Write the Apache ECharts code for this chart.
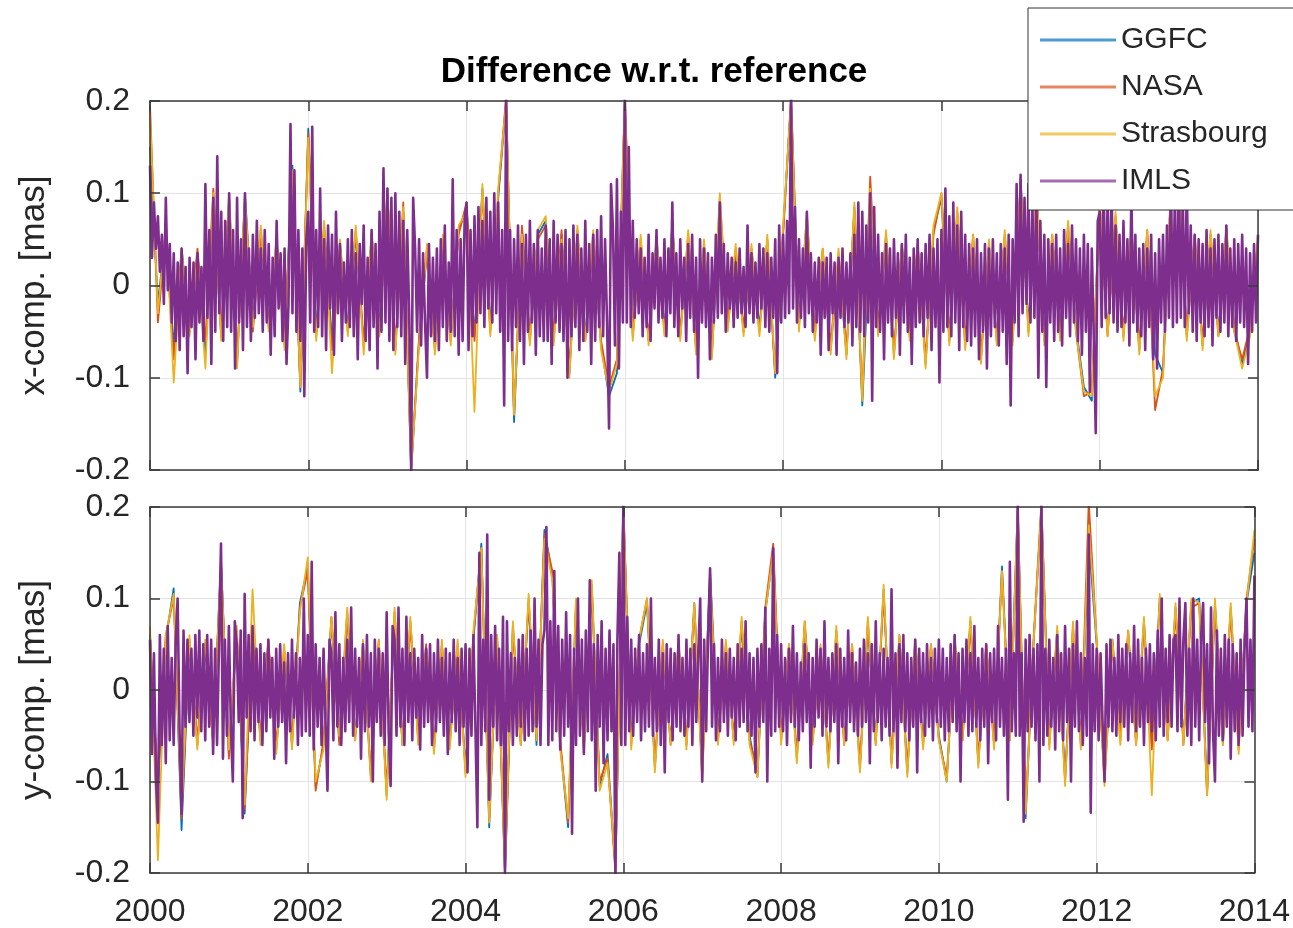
<!DOCTYPE html>
<html>
<head>
<meta charset="utf-8">
<script src="https://cdn.jsdelivr.net/npm/echarts@6/dist/echarts.min.js"></script>
<style>html,body{margin:0;padding:0;background:#fff}#c{width:1293px;height:928px}</style>
</head>
<body>
<div id="c"></div>
<script>
// Values in units of 0.001 mas.
const T0 = 2000;
const DT_IMLS = 0.025;   // sampling step (years) of the IMLS rows
const DT_OTHER = 0.1;    // sampling step (years) of the other rows
const seriesNames = ['GGFC', 'NASA', 'Strasbourg', 'IMLS'];
const xTickYears = [2000, 2002, 2004, 2006, 2008, 2010, 2012, 2014];
const yTickValues = [-0.2, -0.1, 0, 0.1, 0.2];

const xIMLS = [
130,30,90,40,75,15,55,-20,95,-5,45,-40,35,-60,25,-70,40,-55,20,-95,30,-45,25,-80,35,-40,20,-60,110,-35,60,-85,95,-50,140,-30,80,-60,70,-45,
100,-50,60,-90,95,-40,50,-70,100,-45,40,-60,55,-35,70,-30,40,-50,60,-40,45,-75,30,-55,70,-25,35,-60,40,-85,-20,175,-30,125,-50,60,-60,40,-120,50,
80,-40,172,-50,60,-45,105,-55,50,-70,65,-25,55,-75,80,-30,45,-60,25,-40,50,-45,60,-55,35,-80,45,-20,65,-60,30,-70,60,-45,45,-90,80,-50,127,-40,
105,-60,95,-70,100,-45,80,-55,70,-85,60,-30,-200,95,40,-50,50,-65,35,-40,-100,45,-55,30,-60,40,-70,50,-45,65,-60,25,-50,115,-55,60,-75,50,-60,70,
90,-70,60,-55,75,-40,85,-30,70,-45,95,-25,80,-40,100,-30,90,-50,60,-130,205,-60,60,-70,50,-45,65,-60,45,-85,55,-50,70,-40,45,-75,60,-55,40,-60,
65,-60,50,-85,70,-40,55,-50,45,-60,60,-100,50,-55,65,-45,55,-70,40,-60,70,-50,45,-85,55,-60,60,-45,75,-55,50,-40,-155,110,60,-65,115,-90,80,-40,
205,-40,150,-45,70,-35,50,-30,40,-55,30,-45,55,-60,35,-25,60,-40,30,-35,50,-55,40,-30,90,-45,35,-55,50,-25,30,-60,45,-35,55,-50,30,-100,50,-40,
40,-45,35,-80,30,-40,55,-35,90,-30,45,-50,35,-25,30,-45,25,-35,40,-30,20,-45,65,-30,35,-40,25,-35,45,-25,40,-45,35,-50,30,-35,50,-95,65,-40,
55,-35,70,-30,205,-25,85,-40,50,-35,40,-45,80,-30,35,-50,25,-40,30,-75,25,-35,30,-70,35,-30,25,-75,30,-35,40,-45,25,-40,35,-65,55,-45,90,-50,
80,-55,65,-40,100,-125,85,-45,55,-50,35,-80,45,-40,40,-55,50,-35,35,-75,45,-40,55,-50,30,-85,40,-45,50,-40,35,-55,45,-35,55,-70,40,-45,50,-105,
60,-50,105,-45,75,-55,90,-40,65,-70,80,-45,55,-60,45,-65,40,-55,50,-80,35,-50,45,-90,40,-55,50,-45,35,-65,45,-50,40,-85,55,-130,50,-40,110,-55,
120,-30,95,-20,110,-40,85,-35,100,-100,70,-50,55,-110,50,-40,45,-60,55,-50,40,-65,60,-35,45,-55,65,-40,50,-60,40,-75,55,-50,45,-115,40,-55,-160,70,
80,-45,110,-35,95,-30,105,-40,65,-50,55,-45,70,-40,50,-65,100,-40,55,-50,40,-55,45,-70,40,-45,55,-80,35,-90,50,-40,55,-50,65,-35,115,-45,100,-40,
120,-35,95,-45,110,-30,65,-50,55,-60,50,-40,45,-55,60,-45,40,-65,50,-35,55,-50,45,-40,65,-55,40,-45,50,-60,45,-40,55,-45,40,-85,35,-50,45,-40,
55];

const xGGFC = [
150,-20,60,-65,40,-50,35,-75,90,-55,
95,-85,100,-40,60,-45,50,-60,130,-115,
170,-50,65,-60,45,-45,55,-65,55,-45,
100,-70,80,-200,-60,40,-65,50,-60,60,
85,-55,105,-45,95,200,-148,60,-60,55,
70,-60,55,-95,60,-55,50,-65,-120,-95,
200,-55,45,-60,50,-45,65,-55,50,-70,
45,-75,85,-45,35,-50,40,-45,50,-100,
60,200,-40,75,-55,35,-70,30,-75,85,
-130,65,-50,55,-75,45,-55,40,-85,60,
95,-60,80,-65,50,-80,45,-60,55,-60,
115,-45,110,-60,50,-55,65,-45,-110,-125,
90,-50,70,-55,60,-70,55,-75,-95,105,
110,-55,50,-65,55,-50,60,-45,-85,-50,
45];

const xNASA = [
195,-40,55,-80,35,-45,40,-60,105,-50,
90,-80,95,-50,55,-40,45,-55,120,-110,
165,-55,60,-70,40,-50,60,-60,50,-50,
95,-65,90,-200,-55,35,-70,45,-55,55,
90,-60,100,-50,100,205,-140,65,-55,50,
65,-55,60,-90,55,-60,55,-60,-110,-80,
205,-50,50,-55,45,-50,60,-50,55,-65,
40,-70,95,-40,40,-45,35,-50,45,-95,
55,205,-45,70,-50,40,-65,35,-70,80,
-120,118,-45,50,-70,40,-50,45,-80,55,
100,-55,75,-60,55,-75,40,-55,50,-55,
110,-50,105,-55,55,-50,60,-50,-120,-115,
85,-55,75,-50,55,-65,60,-135,-90,100,
105,-50,55,-60,50,-55,55,-50,-80,-45,
50];

const xStras = [
185,-30,65,-105,40,-55,30,-90,100,-60,
100,-90,95,-45,65,-50,55,-70,125,-110,
160,-60,70,-95,50,-55,65,-75,60,-55,
105,-75,85,-200,-65,45,-75,55,-65,65,
80,-137,110,-55,105,200,-140,55,-65,60,
75,-65,50,-100,65,-60,60,-70,-115,-85,
200,-60,55,-65,55,-55,65,-60,60,-75,
50,-80,100,-50,45,-55,45,-55,55,-95,
65,200,-50,80,-60,40,-75,40,-80,90,
-125,105,-55,60,-80,45,-60,45,-90,65,
100,-65,85,-70,55,-85,50,-65,60,-65,
115,-55,110,-65,55,-60,70,-50,-115,-120,
95,-55,80,-60,65,-75,60,-120,-100,110,
115,-60,55,-70,60,-55,65,-50,-90,-55,
55];

const yIMLS = [
55,-70,40,-95,-145,60,-60,45,-80,70,-55,35,-60,50,100,-45,-135,65,-40,55,-35,45,-50,60,-30,65,-45,50,-55,60,-40,55,-70,45,-60,50,160,-75,55,-50,
70,-40,-100,75,50,-35,65,-140,105,-30,60,-45,70,-55,45,-35,50,-60,40,-45,55,-30,35,-75,45,-40,50,-35,30,-80,40,-45,55,-30,40,-60,35,-50,100,-45,
60,-50,140,-65,50,-40,35,-60,45,-35,-110,55,40,-55,85,-40,50,-60,35,-45,55,-35,90,-50,45,-40,35,-75,50,-45,60,-40,40,-100,55,-35,45,-50,40,-60,
85,-45,-105,70,55,-50,90,-40,45,-60,80,-35,40,-55,45,-30,35,-65,60,-40,45,-35,50,-60,40,-45,55,-35,35,-50,45,-70,40,-35,55,-45,35,-60,45,-40,
50,-90,45,-50,60,-40,-150,150,-60,55,-45,170,-120,60,-40,70,-55,45,-60,80,-200,75,-45,40,-60,35,-50,55,-40,60,-55,45,-50,65,-45,100,-40,55,-60,50,
65,178,-60,75,-55,130,-45,70,-65,55,-50,85,-40,60,-157,45,-60,100,-50,55,-70,65,-45,120,-55,50,-110,60,-40,75,-80,45,-55,65,-45,50,-200,55,150,-60,
205,-60,80,-45,55,-50,45,-35,60,-55,40,-45,50,-40,100,-50,35,-45,55,-60,40,-90,50,-35,45,-55,40,-40,60,-45,35,-50,55,-40,45,-60,50,-35,40,100,
-100,55,-45,60,133,-40,50,-55,35,-45,55,-35,40,-50,45,-30,35,-55,50,-40,45,-35,75,-45,40,-50,35,-90,45,-40,50,-35,90,-100,45,-50,155,-45,60,-40,
50,-45,35,-60,45,-35,70,-40,40,-55,30,-45,50,-35,40,-85,35,-40,55,-30,45,-50,75,-40,35,-45,40,-35,50,-80,45,-40,35,-55,65,-35,40,-45,30,-50,
45,-40,55,-35,40,-80,50,-45,75,-35,40,-55,45,-40,35,-50,110,-45,40,-85,50,-35,60,-45,40,-55,35,-40,55,-90,45,-35,40,-50,50,-40,35,-55,45,-35,
55,-40,45,-55,35,-45,50,-35,60,-45,40,-100,45,-35,55,-50,40,-45,70,-40,35,-55,45,-40,50,-80,40,-35,45,-55,70,-40,35,-50,45,-120,140,-45,40,-50,
205,-50,40,-144,55,-45,60,-40,45,-55,50,-100,205,-60,45,-50,55,-40,35,-65,60,-45,40,-55,70,-35,45,-100,50,-40,75,-45,40,-60,35,-50,170,-134,50,-45,
45,-55,40,-35,-100,50,-40,55,-45,35,-50,60,-35,45,-40,50,-55,40,-35,70,-45,55,-40,35,-60,45,-35,50,-45,40,-55,65,-40,100,-50,45,-35,60,-40,55,
60,-45,100,-40,55,95,-50,45,-60,100,-40,55,-55,60,95,-35,50,-80,90,-45,-100,65,-50,45,-55,60,-40,55,-75,50,-45,40,-60,55,-50,45,100,-40,55,-45,
125];

const yGGFC = [
60,-110,55,111,-153,50,-60,45,-55,140,
-70,60,-135,65,-55,50,-65,40,-60,95,
135,-105,-60,75,-55,85,-50,45,-95,50,
-115,80,-60,75,-50,45,-65,50,-55,45,
-85,55,160,-150,60,-200,70,-55,95,-60,
175,125,-60,-150,90,-65,115,-105,-70,-195,
200,-55,50,95,-85,45,-55,50,-60,95,
-95,130,-50,45,-55,70,-50,-95,85,150,
-55,45,-75,70,-50,45,-80,65,-55,45,
-85,70,-55,110,-80,55,-90,50,-55,45,
-50,-100,55,-50,75,-80,45,-60,135,-50,
200,-140,50,200,-55,65,-95,70,-60,165,
50,-95,55,-50,60,-55,75,-60,100,-50,
90,-55,95,100,-110,95,-55,90,-60,95,
150];

const yNASA = [
55,-100,60,100,-140,55,-55,50,-60,145,
-75,65,-130,60,-50,55,-60,45,-55,90,
130,-110,-55,80,-60,80,-55,50,-90,55,
-110,85,-55,70,-55,50,-60,45,-60,50,
-90,60,155,-140,55,-200,65,-60,100,-55,
170,130,-55,-145,95,-60,110,-100,-75,-200,
205,-60,55,100,-80,50,-60,45,-55,90,
-90,125,-55,50,-50,75,-55,-90,90,160,
-50,50,-70,75,-55,40,-75,60,-60,50,
-80,75,-60,105,-75,60,-85,55,-60,50,
-55,-95,50,-55,70,-75,50,-55,130,-55,
200,-130,55,205,-60,60,-100,65,-55,205,
55,-100,50,-55,65,-60,70,-65,95,-55,
85,-60,90,95,-115,90,-60,85,-65,100,
165];

const yStras = [
70,-186,60,105,-130,60,-65,55,-55,135,
-65,70,-125,110,-60,45,-70,50,-65,85,
145,-100,-65,80,-50,90,-55,55,-100,55,
-120,90,-60,80,-60,45,-70,55,-65,55,
-95,65,155,-145,60,-195,75,-60,105,-55,
165,120,-65,-140,100,-70,120,-110,-80,-190,
200,-65,55,100,-90,55,-60,55,-65,95,
-100,120,-60,55,-60,80,-60,-95,85,150,
-60,50,-80,75,-60,50,-85,70,-60,50,
-90,80,-60,115,-85,60,-95,55,-65,50,
-55,-100,60,-55,80,-85,50,-65,130,-55,
195,-135,50,200,-65,70,-105,75,-65,180,
55,-105,55,-60,65,-60,80,-115,105,-55,
95,-60,100,95,-115,100,-60,95,-70,95,
175];

const colors = ['#0072BD', '#D95319', '#EDB120', '#7E2F8E'];
const lineWidths = [1.8, 1.8, 1.8, 2.6];
const FONT = 'Liberation Sans, Arial, Helvetica, sans-serif';
const AX = '#262626';

function toPoints(arr, dt) {
  return arr.map((v, i) => [T0 + i * dt, v / 1000]);
}

const grids = [
  { left: 150, right: 35, top: 101, height: 369 },
  { left: 150, right: 35, top: 507, height: 366 }
];

// primary axes: grid lines + labels (behind the data)
// secondary axes: box outline + inward ticks (on top of the data)
function xAx(gi, pos, primary, showLabel) {
  return {
    type: 'value', gridIndex: gi, position: pos, min: 2000, max: 2014, interval: 2,
    axisLine: { show: !primary, onZero: false, lineStyle: { color: '#3a3a3a', width: 1.5 } },
    axisTick: { show: !primary, inside: true, length: 10, lineStyle: { color: '#3a3a3a', width: 1.5 } },
    axisLabel: { show: showLabel, color: AX, fontSize: 32, fontFamily: FONT, margin: 23,
      formatter: v => (xTickYears.indexOf(v) >= 0 ? String(v) : '') },
    splitLine: { show: primary, lineStyle: { color: '#e4e4e4', width: 1 } },
    z: primary ? 0 : 10
  };
}
function yAx(gi, pos, primary, name) {
  return {
    type: 'value', gridIndex: gi, position: pos, min: yTickValues[0], max: yTickValues[yTickValues.length - 1], interval: 0.1,
    name: name, nameLocation: 'middle', nameGap: 98,
    nameTextStyle: { color: AX, fontSize: 35, fontFamily: FONT, lineHeight: 35 },
    axisLine: { show: !primary, onZero: false, lineStyle: { color: '#3a3a3a', width: 1.5 } },
    axisTick: { show: !primary, inside: true, length: 10, lineStyle: { color: '#3a3a3a', width: 1.5 } },
    axisLabel: { show: primary, color: AX, fontSize: 32, fontFamily: FONT, margin: 20,
      formatter: v => { const r = Math.round(v * 10) / 10; return r === 0 ? '0' : String(r); } },
    splitLine: { show: primary, lineStyle: { color: '#e4e4e4', width: 1 } },
    z: primary ? 0 : 10
  };
}

const panelData = [
  [xGGFC, xNASA, xStras, xIMLS],
  [yGGFC, yNASA, yStras, yIMLS]
];

const series = [];
panelData.forEach((rows, p) => {
  rows.forEach((arr, s) => {
    series.push({
      name: seriesNames[s], type: 'line', xAxisIndex: p, yAxisIndex: p,
      data: toPoints(arr, s === 3 ? DT_IMLS : DT_OTHER),
      showSymbol: false, symbol: 'none', clip: true, animation: false,
      lineStyle: { color: colors[s], width: lineWidths[s], join: 'round' },
      itemStyle: { color: colors[s] },
      z: 2 + s
    });
  });
});

const chart = echarts.init(document.getElementById('c'), null, { renderer: 'canvas' });
chart.setOption({
  animation: false,
  backgroundColor: '#fff',
  title: {
    text: 'Difference w.r.t. reference', left: 654, top: 54, textAlign: 'center', padding: 0,
    textStyle: { fontSize: 35, fontWeight: 'bold', color: '#000', fontFamily: FONT, lineHeight: 36 }
  },
  legend: {
    data: seriesNames, orient: 'vertical', left: 1028, top: 8,
    padding: [17, 28, 14, 12], itemGap: 17, itemWidth: 76, itemHeight: 3,
    icon: 'rect',
    backgroundColor: '#fff', borderColor: '#333', borderWidth: 1, borderRadius: 0,
    textStyle: { fontSize: 30, color: AX, fontFamily: FONT, lineHeight: 30 },
    itemStyle: { opacity: 0.7 },
    z: 20
  },
  grid: grids,
  xAxis: [
    xAx(0, 'bottom', true, false), xAx(1, 'bottom', true, true),
    xAx(0, 'bottom', false, false), xAx(1, 'bottom', false, false),
    xAx(0, 'top', false, false), xAx(1, 'top', false, false)
  ],
  yAxis: [
    yAx(0, 'left', true, 'x-comp. [mas]'), yAx(1, 'left', true, 'y-comp. [mas]'),
    yAx(0, 'left', false, ''), yAx(1, 'left', false, ''),
    yAx(0, 'right', false, ''), yAx(1, 'right', false, '')
  ],
  series: series
});
</script>
</body>
</html>
